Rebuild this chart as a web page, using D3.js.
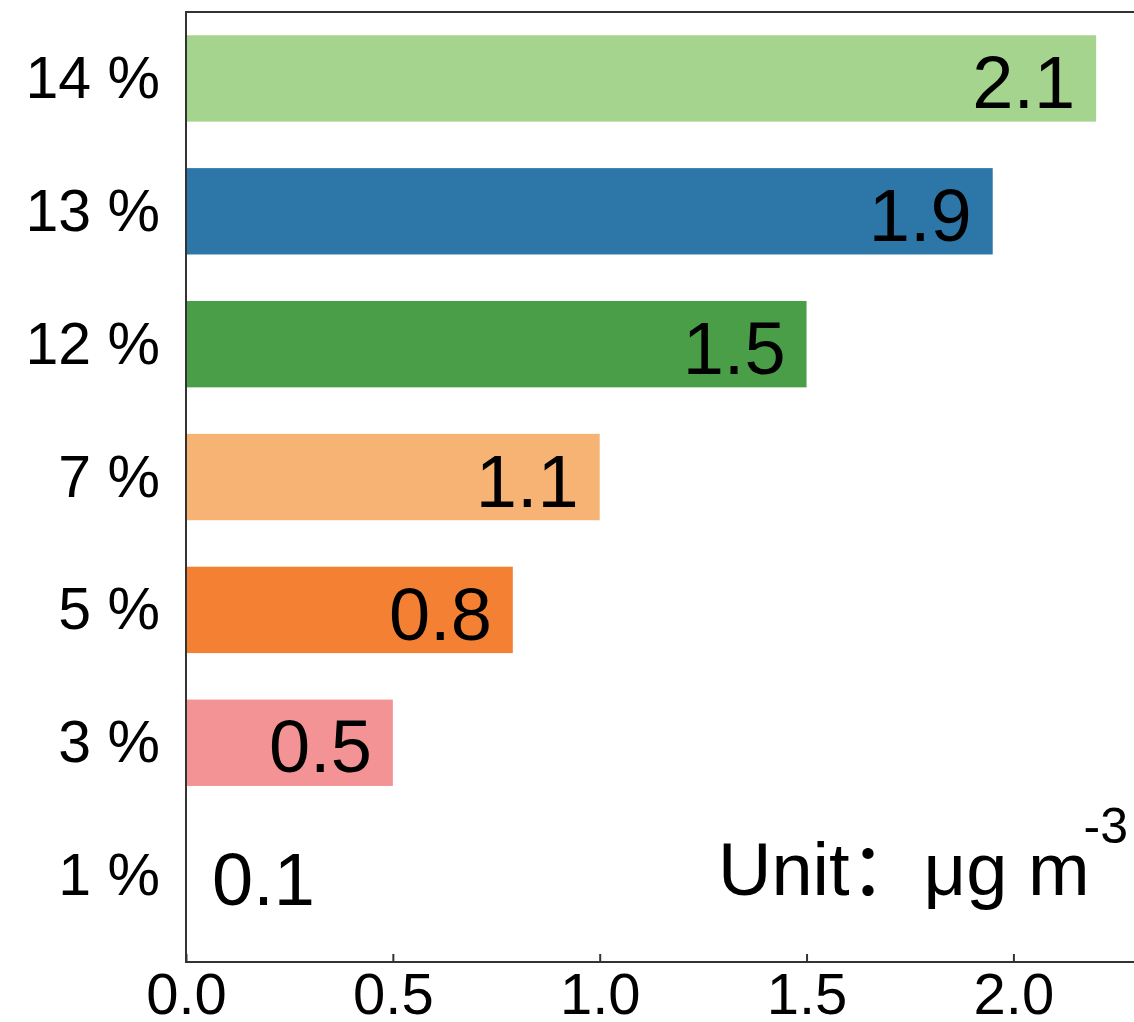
<!DOCTYPE html>
<html>
<head>
<meta charset="utf-8">
<script src="https://cdn.jsdelivr.net/npm/d3@7/dist/d3.min.js"></script>
<style>
	html, body { margin: 0; padding: 0; background: #fff; }
	svg { display: block; }
	text { font-family: "Liberation Sans", Arial, "Noto Sans CJK SC", sans-serif; fill: #000; }
</style>
</head>
<body>
<svg width="1134" height="1022"></svg>
<script>
// @ Data (bottom to top)
const categories = ["1 %", "3 %", "5 %", "7 %", "12 %", "13 %", "14 %"];
const barValues = [null, 0.5, 0.79, 1.0, 1.5, 1.95, 2.2]; // 1 % has no bar
const valueLabels = ["0.1", "0.5", "0.8", "1.1", "1.5", "1.9", "2.1"];
const barColors = [null, "#f49395", "#f48034", "#f6b374", "#4a9e48", "#2c76a8", "#a5d48f"];
const xTicks = [0, 0.5, 1.0, 1.5, 2.0];
const unitText = "Unit：μg m";
const unitSup = "-3";

function drawChart() {
	const width = 1134;
	const height = 1022;
	const margin = { left: 186, top: 12, bottom: 60 };
	const plotBottom = height - margin.bottom;

	const x = d3.scaleLinear().domain([0, 2.3]).range([margin.left, margin.left + 2.3 * 413.7]);
	const y = d3.scaleLinear().domain([-0.65, 6.5]).range([plotBottom, margin.top]);
	const barH = y(0) - y(0.65);

	const data = categories.map((c, i) => ({
		cat: c,
		value: barValues[i],
		label: valueLabels[i],
		color: barColors[i],
		idx: i,
	}));

	const svg = d3.select("svg");

	// @ bars
	svg.append("g")
		.selectAll("rect")
		.data(data.filter((d) => d.value !== null))
		.enter()
		.append("rect")
		.attr("x", x(0))
		.attr("y", (d) => y(d.idx) - barH / 2)
		.attr("width", (d) => x(d.value) - x(0))
		.attr("height", barH)
		.attr("fill", (d) => d.color);

	// @ value labels (right aligned inside bar, the 1 % one sits next to the axis)
	svg.append("g")
		.selectAll("text")
		.data(data)
		.enter()
		.append("text")
		.attr("x", (d) => (d.value === null ? x(0) + 26 : x(d.value) - 21))
		.attr("y", (d) => y(d.idx))
		.attr("dy", "0.4em")
		.attr("text-anchor", (d) => (d.value === null ? "start" : "end"))
		.style("font-size", "74px")
		.text((d) => d.label);

	// @ spines
	const spine = svg.append("g").attr("stroke", "#333").attr("stroke-width", 2).attr("fill", "none");
	spine.append("line").attr("x1", x(0)).attr("x2", x(0)).attr("y1", margin.top).attr("y2", plotBottom);
	spine.append("line").attr("x1", x(0) - 1).attr("x2", width + 10).attr("y1", margin.top).attr("y2", margin.top);

	// @ x axis (ticks inward)
	const xAxis = svg.append("g")
		.attr("transform", `translate(0,${plotBottom})`)
		.call(d3.axisBottom(x).tickValues(xTicks).tickFormat(d3.format(".1f")).tickSize(-8).tickPadding(11));
	xAxis.select(".domain").attr("stroke", "#333").attr("stroke-width", 2).attr("d", `M${x(0) - 1},0H${width + 10}`);
	xAxis.selectAll(".tick line").attr("stroke", "#333").attr("stroke-width", 2);
	xAxis.selectAll(".tick text")
		.attr("fill", "#000")
		.style("font-size", "58px")
		.style("font-family", '"Liberation Sans", Arial, sans-serif')
		.attr("dy", "0.71em");

	// @ y labels
	svg.append("g")
		.selectAll("text")
		.data(data)
		.enter()
		.append("text")
		.attr("x", x(0) - 26)
		.attr("y", (d) => y(d.idx))
		.attr("dy", "0.33em")
		.attr("text-anchor", "end")
		.style("font-size", "59px")
		.text((d) => d.cat);

	// @ unit note
	const unit = svg.append("text")
		.attr("x", 718)
		.attr("y", y(0) + 19)
		.style("font-size", "74px");
	unit.append("tspan").text(unitText);
	unit.append("tspan")
		.attr("dx", -6)
		.attr("dy", -52)
		.style("font-size", "50px")
		.text(unitSup);
}

drawChart();
</script>
</body>
</html>
